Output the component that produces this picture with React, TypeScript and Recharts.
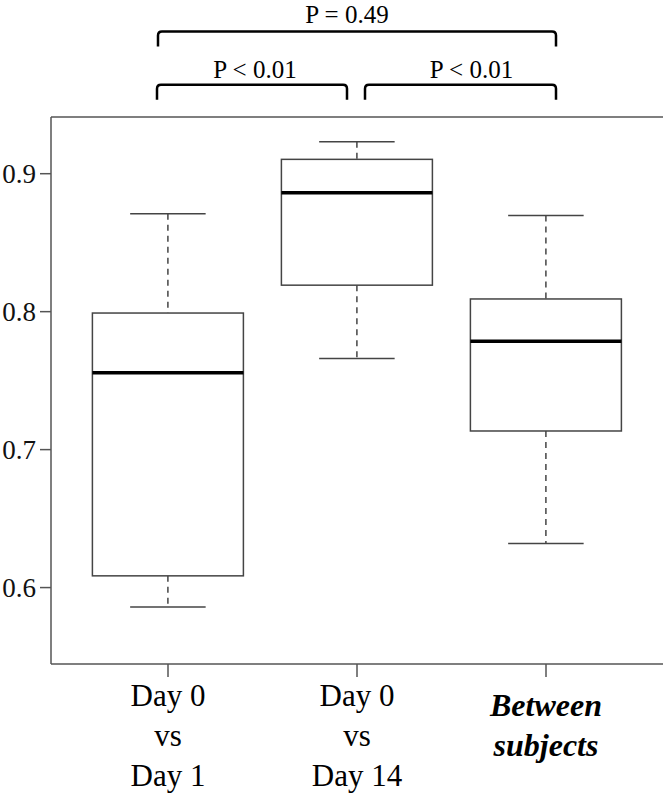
import React from "react";
import {
  ComposedChart,
  Bar,
  XAxis,
  YAxis,
  ReferenceLine,
} from "recharts";

document.body.style.margin = "0";

// comparison groups
const categories = ["d0d1", "d0d14", "between"];
const tickLabels = [
  ["Day 0", "vs", "Day 1"],
  ["Day 0", "vs", "Day 14"],
  ["Between", "subjects"],
];

// five-number summaries
const mins = [0.586, 0.766, 0.632];
const q1s = [0.6085, 0.8192, 0.7135];
const medians = [0.7557, 0.8862, 0.7785];
const q3s = [0.799, 0.9104, 0.8092];
const maxs = [0.871, 0.9232, 0.8697];

const yTicks = [0.6, 0.7, 0.8, 0.9];
const yDomain = [0.5446, 0.9411];

// significance brackets (group index from/to, height in data units)
const bracketFrom = [0, 0, 1];
const bracketTo = [2, 1, 2];
const bracketLevel = [1.003, 0.9644, 0.9644];
const bracketText = ["P = 0.49", "P < 0.01", "P < 0.01"];

const data = categories.map((name, i) => ({
  name,
  min: mins[i],
  q1: q1s[i],
  median: medians[i],
  q3: q3s[i],
  max: maxs[i],
}));

const FONT = "'Liberation Serif', 'Times New Roman', serif";
const EDGE = "#555";

// end offsets / text nudges for the brackets (px)
const bracketStyle = [
  { dl: -10, dr: 10, gap: 9, dx: -10 },
  { dl: -11, dr: -10, gap: 7, dx: 3 },
  { dl: 8, dr: 10, gap: 7, dx: 11 },
];

const BoxShape = (props: any) => {
  const { x, y, width, height, payload } = props;
  const { min, q1, median, q3, max } = payload;
  const k = height / (max - min);
  const py = (v: number) => y + (max - v) * k;
  const cx = x + width / 2;
  const cap = width / 4;
  return (
    <g>
      <line x1={cx} x2={cx} y1={py(max)} y2={py(q3)} stroke="#444" strokeWidth={1.5} strokeDasharray="6 5" />
      <line x1={cx} x2={cx} y1={py(q1)} y2={py(min)} stroke="#444" strokeWidth={1.5} strokeDasharray="6 5" />
      <line x1={cx - cap} x2={cx + cap} y1={py(max)} y2={py(max)} stroke="#444" strokeWidth={1.5} />
      <line x1={cx - cap} x2={cx + cap} y1={py(min)} y2={py(min)} stroke="#444" strokeWidth={1.5} />
      <rect x={x} y={py(q3)} width={width} height={py(q1) - py(q3)} fill="#fff" stroke="#444" strokeWidth={1.5} />
      <line x1={x} x2={x + width} y1={py(median)} y2={py(median)} stroke="#000" strokeWidth={3.5} />
    </g>
  );
};

const XTick = (props: any) => {
  const { x, y, index } = props;
  const lines = tickLabels[index] || [];
  const italic = index === 2;
  const first = italic ? 37 : 27;
  return (
    <text
      x={x}
      y={y}
      textAnchor="middle"
      fontFamily={FONT}
      fontSize={italic ? 32 : 31}
      fontWeight={italic ? "bold" : "normal"}
      fontStyle={italic ? "italic" : "normal"}
      fill="#000"
    >
      {lines.map((l, j) => (
        <tspan key={j} x={x} dy={j === 0 ? first : 40}>
          {l}
        </tspan>
      ))}
    </text>
  );
};

const makeBracket = (i: number) => (p: any) => {
  const s = bracketStyle[i];
  const xa = p.x1 + s.dl;
  const xb = p.x2 + s.dr;
  const yy = p.y1;
  const leg = 15;
  const r = 4;
  return (
    <g>
      <path
        d={`M${xa},${yy + leg} L${xa},${yy + r} Q${xa},${yy} ${xa + r},${yy} L${xb - r},${yy} Q${xb},${yy} ${xb},${yy + r} L${xb},${yy + leg}`}
        fill="none"
        stroke="#000"
        strokeWidth={2.5}
      />
      <text x={(xa + xb) / 2 + s.dx} y={yy - s.gap} textAnchor="middle" fontFamily={FONT} fontSize={25} fill="#000">
        {bracketText[i]}
      </text>
    </g>
  );
};

export default function App() {
  return (
    <div style={{ width: 664, height: 797, background: "#fff" }}>
      <ComposedChart
        width={664}
        height={797}
        data={data}
        margin={{ top: 117, right: 1, bottom: 0, left: 0 }}
        barCategoryGap="10%"
      >
        <XAxis
          dataKey="name"
          interval={0}
          height={133}
          padding={{ left: 22.5, right: 22.5 }}
          tickSize={13}
          axisLine={{ stroke: EDGE, strokeWidth: 1.5 }}
          tickLine={{ stroke: EDGE, strokeWidth: 1.5 }}
          tick={<XTick />}
        />
        <YAxis
          type="number"
          width={51}
          domain={yDomain}
          allowDataOverflow
          ticks={yTicks}
          tickSize={11}
          tickMargin={4}
          tickFormatter={(v: number) => v.toFixed(1)}
          tick={{ fontFamily: FONT, fontSize: 27, fill: "#111" }}
          axisLine={{ stroke: EDGE, strokeWidth: 1.5 }}
          tickLine={{ stroke: EDGE, strokeWidth: 1.5 }}
        />
        <YAxis
          yAxisId="right"
          orientation="right"
          type="number"
          width={0}
          domain={yDomain}
          allowDataOverflow
          tick={false}
          tickLine={false}
          axisLine={{ stroke: EDGE, strokeWidth: 1.5 }}
        />
        {/* top edge of the frame */}
        <ReferenceLine y={yDomain[1]} ifOverflow="visible" stroke={EDGE} strokeWidth={1.5} />
        <Bar
          dataKey={(d: any) => [d.min, d.max]}
          shape={<BoxShape />}
          isAnimationActive={false}
        />
        {bracketLevel.map((lv, i) => (
          <ReferenceLine
            key={i}
            ifOverflow="visible"
            segment={[
              { x: categories[bracketFrom[i]], y: lv },
              { x: categories[bracketTo[i]], y: lv },
            ]}
            shape={makeBracket(i)}
          />
        ))}
      </ComposedChart>
    </div>
  );
}
